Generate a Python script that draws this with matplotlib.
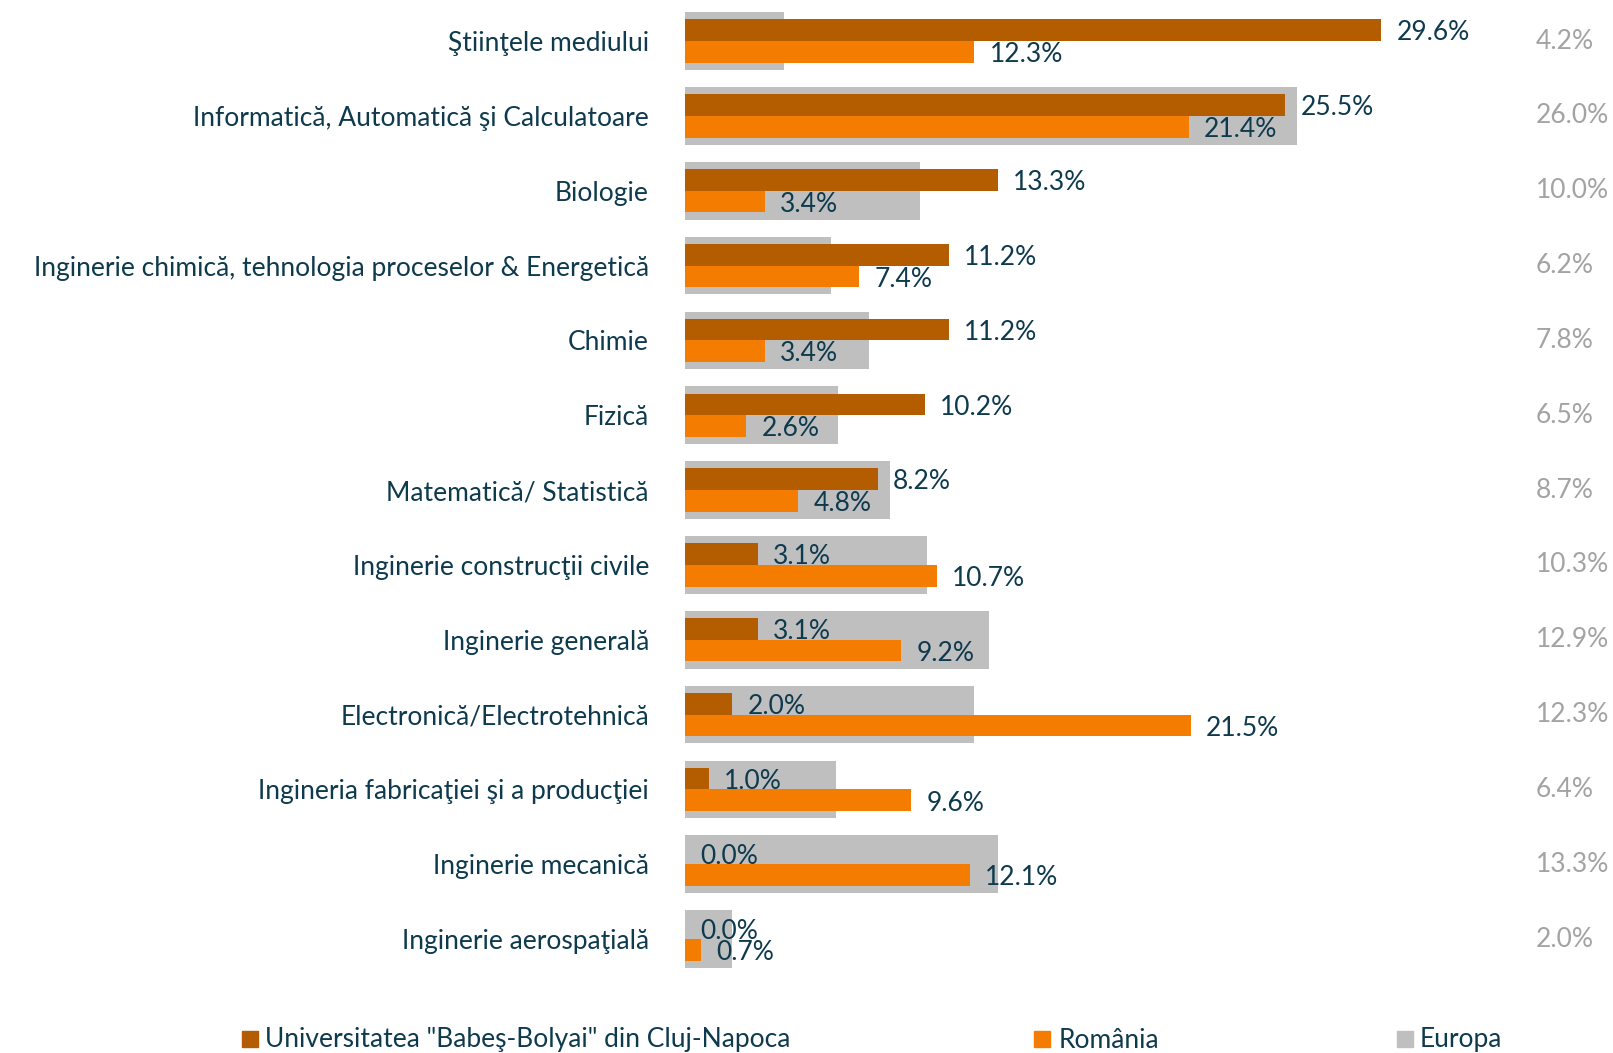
import matplotlib
matplotlib.use("Agg")
import matplotlib.pyplot as plt
from matplotlib.patches import Rectangle
from matplotlib.transforms import blended_transform_factory
import numpy as np

plt.rcParams['font.family'] = ['Lato', 'DejaVu Sans']

# Date
categories = ["Ştiinţele mediului",
              "Informatică, Automatică şi Calculatoare",
              "Biologie",
              "Inginerie chimică, tehnologia proceselor & Energetică",
              "Chimie",
              "Fizică",
              "Matematică/ Statistică",
              "Inginerie construcţii civile",
              "Inginerie generală",
              "Electronică/Electrotehnică",
              "Ingineria fabricaţiei şi a producţiei",
              "Inginerie mecanică",
              "Inginerie aerospaţială"]
ubb = [29.6, 25.5, 13.3, 11.2, 11.2, 10.2, 8.2, 3.1, 3.1, 2.0, 1.0, 0.0, 0.0]
romania = [12.3, 21.4, 3.4, 7.4, 3.4, 2.6, 4.8, 10.7, 9.2, 21.5, 9.6, 12.1, 0.7]
europa = [4.2, 26.0, 10.0, 6.2, 7.8, 6.5, 8.7, 10.3, 12.9, 12.3, 6.4, 13.3, 2.0]
series_names = ['Universitatea "Babeş-Bolyai" din Cluj-Napoca', 'România', 'Europa']

c_ubb = '#b45c00'
c_ro = '#f47c00'
c_eu = '#bfbfbf'
c_txt = '#0e3a4e'
c_grey = '#a3a3a3'
fs = 19

W, H = 1613, 1053
fig = plt.figure(figsize=(W / 100, H / 100), dpi=100)
ax = fig.add_axes([685 / W, 78 / H, 928 / W, 975 / H])

y = np.arange(len(categories))
ax.barh(y, europa, height=0.77, color=c_eu)
ax.barh(y - 0.145, ubb, height=0.29, color=c_ubb)
ax.barh(y + 0.145, romania, height=0.29, color=c_ro)

for i in range(len(categories)):
    ax.annotate(f"{ubb[i]:.1f}%", (ubb[i], y[i] - 0.145), xytext=(11, -2),
                textcoords='offset points', va='center', ha='left',
                fontsize=fs, color=c_txt)
    ax.annotate(f"{romania[i]:.1f}%", (romania[i], y[i] + 0.145), xytext=(11, -2),
                textcoords='offset points', va='center', ha='left',
                fontsize=fs, color=c_txt)

trans = blended_transform_factory(ax.transAxes, ax.transData)
for i, v in enumerate(europa):
    ax.text(0.917, y[i], f"{v:.1f}%", transform=trans, va='center', ha='left',
            fontsize=fs, color=c_grey)

ax.set_xlim(0, 928 / 23.53)
ax.set_ylim(12.48, -0.548)
ax.set_yticks(y)
ax.set_yticklabels(categories, fontsize=fs, color=c_txt)
ax.tick_params(axis='y', length=0, pad=26)
ax.set_xticks([])
for s in ax.spines.values():
    s.set_visible(False)

# legenda
legend_pos = [(242, 265), (1034, 1059), (1397, 1420)]
for (sx, tx), name, col in zip(legend_pos, series_names, [c_ubb, c_ro, c_eu]):
    fig.add_artist(Rectangle((sx / W, (H - 1047) / H), 16 / W, 16 / H,
                             transform=fig.transFigure, color=col))
    fig.text(tx / W, (H - 1040) / H, name, fontsize=fs, color=c_txt,
             va='center', ha='left')

fig.savefig("out.png", dpi=100)
